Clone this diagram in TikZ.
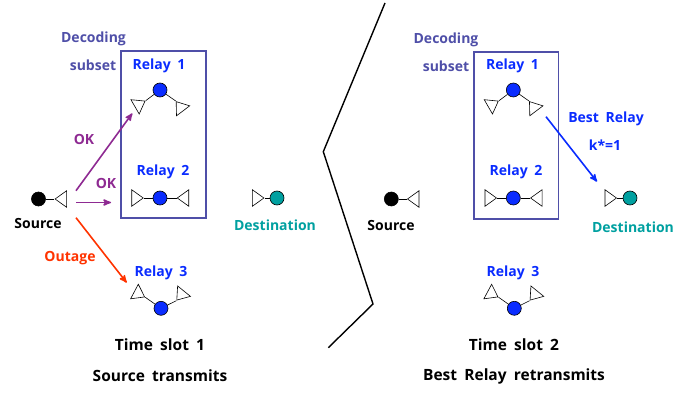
\documentclass[tikz,border=0pt]{standalone}
\usepackage{fontspec}
\setmainfont{Open Sans}[WordSpace=1.8]
\usetikzlibrary{positioning}
\usetikzlibrary{arrows}
\usetikzlibrary{shapes.geometric}

\definecolor{relayblue}{HTML}{0A2CFF}
\definecolor{boxblue}{HTML}{4F4FA8}
\definecolor{destteal}{HTML}{00A0A0}
\definecolor{okpurple}{HTML}{8E2A92}
\definecolor{outred}{HTML}{FF3300}

\tikzset{
    relay/.style={circle,draw,line width=0.6pt,fill=relayblue,minimum size=14pt,inner sep=0pt},
    ant/.style={isosceles triangle,isosceles triangle stretches,draw,line width=0.6pt,fill=white,
        minimum height=11.5pt,minimum width=16.5pt,inner sep=0pt,anchor=apex,rotate=#1},
    wire/.style={line width=0.6pt},
    txt/.style={font=\bfseries\fontsize{14}{16}\selectfont,inner sep=0pt,yshift=-1.5pt},
    captxt/.style={font=\bfseries\fontsize{15.5}{18}\selectfont,inner sep=0pt,yshift=-1pt},
    subsetbox/.style={draw=boxblue,line width=1.7pt},
    link/.style={line width=1.6pt,->}
}

\begin{document}
\begin{tikzpicture}[>=stealth',x=1pt,y=-1pt]
    \useasboundingbox (0,0) rectangle (696,393);

    % slot 1
    \node (boxA) [subsetbox,minimum width=84.4pt,minimum height=166.7pt,inner sep=0pt] at (163.5,134.3) {};
    \node (decA) [txt,text=boxblue] at (93.5,37) {Decoding};
    \node (subA) [txt,text=boxblue] at (93,64) {subset};

    \node (srcA) [relay,fill=black] at (38.5,199) {};
    \node (srcAant) [ant=180] at (54.3,199) {};
    \node (srcAtxt) [txt] at (38,222) {Source};

    \node (rAa) [relay] at (160,90) {};
    \node (rAal) [ant=30] at (145.7,100.7) {};
    \node (rAar) [ant=127] at (175.7,101) {};
    \node (rAatxt) [txt,text=relayblue] at (159,64) {Relay 1};

    \node (rAb) [relay] at (160,198) {};
    \node (rAbl) [ant=0] at (144,198) {};
    \node (rAbr) [ant=180] at (176.5,198) {};
    \node (rAbtxt) [txt,text=relayblue] at (163,170) {Relay 2};

    \node (rAc) [relay] at (161,308.3) {};
    \node (rAcl) [ant=-28] at (145.3,297.3) {};
    \node (rAcr) [ant=231] at (176.3,300.7) {};
    \node (rActxt) [txt,text=relayblue] at (161,271) {Relay 3};

    \node (dstA) [relay,fill=destteal] at (277,198) {};
    \node (dstAant) [ant=0] at (264.7,198) {};
    \node (dstAtxt) [txt,text=destteal] at (275,224) {Destination};

    \draw [wire] (srcA) -- (srcAant.apex);
    \draw [wire] (rAa) -- (rAal.apex);
    \draw [wire] (rAa) -- (rAar.apex);
    \draw [wire] (rAb) -- (rAbl.apex);
    \draw [wire] (rAb) -- (rAbr.apex);
    \draw [wire] (rAc) -- (rAcl.apex);
    \draw [wire] (rAc) -- (rAcr.apex);
    \draw [wire] (dstA) -- (dstAant.apex);

    \coordinate (okAs) at (76,190.7);
    \coordinate (okAe) at (132.3,113.3);
    \coordinate (okBs) at (76,202.5);
    \coordinate (okBe) at (111,202.5);
    \coordinate (outs) at (76,217.7);
    \coordinate (oute) at (126.7,282.7);
    \draw [link,okpurple] (okAs) -- (okAe);
    \draw [link,okpurple] (okBs) -- (okBe);
    \draw [link,outred] (outs) -- (oute);
    \node (okAtxt) [txt,text=okpurple] at (84,138) {OK};
    \node (okBtxt) [txt,text=okpurple] at (106,182) {OK};
    \node (outtxt) [txt,text=outred] at (70,257) {Outage};

    \node (slotA) [captxt] at (160,344) {Time slot 1};
    \node (capA) [captxt] at (160,375) {Source transmits};

    % separator
    \coordinate (sepa) at (385,3);
    \coordinate (sepb) at (323.3,151.7);
    \coordinate (sepc) at (373,304);
    \coordinate (sepd) at (328.3,347.7);
    \draw [line width=1.4pt] (sepa) -- (sepb) -- (sepc) -- (sepd);

    % slot 2
    \node (boxB) [subsetbox,minimum width=84.6pt,minimum height=167.3pt,inner sep=0pt] at (516.3,135.6) {};
    \node (decB) [txt,text=boxblue] at (446,38) {Decoding};
    \node (subB) [txt,text=boxblue] at (446,65) {subset};

    \node (srcB) [relay,fill=black] at (391.3,199) {};
    \node (srcBant) [ant=180] at (406.7,199) {};
    \node (srcBtxt) [txt] at (391,224) {Source};

    \node (rBa) [relay] at (513.3,90) {};
    \node (rBal) [ant=30] at (499,100.7) {};
    \node (rBar) [ant=127] at (529,101) {};
    \node (rBatxt) [txt,text=relayblue] at (512.5,64) {Relay 1};

    \node (rBb) [relay] at (513.3,198) {};
    \node (rBbl) [ant=0] at (497.3,198) {};
    \node (rBbr) [ant=180] at (529.8,198) {};
    \node (rBbtxt) [txt,text=relayblue] at (516,170) {Relay 2};

    \node (rBc) [relay] at (514.3,308.3) {};
    \node (rBcl) [ant=-28] at (498.6,297.3) {};
    \node (rBcr) [ant=231] at (529.6,300.7) {};
    \node (rBctxt) [txt,text=relayblue] at (513,271) {Relay 3};

    \node (dstB) [relay,fill=destteal] at (630,198) {};
    \node (dstBant) [ant=0] at (617.3,198) {};
    \node (dstBtxt) [txt,text=destteal] at (633,226) {Destination};

    \draw [wire] (srcB) -- (srcBant.apex);
    \draw [wire] (rBa) -- (rBal.apex);
    \draw [wire] (rBa) -- (rBar.apex);
    \draw [wire] (rBb) -- (rBbl.apex);
    \draw [wire] (rBb) -- (rBbr.apex);
    \draw [wire] (rBc) -- (rBcl.apex);
    \draw [wire] (rBc) -- (rBcr.apex);
    \draw [wire] (dstB) -- (dstBant.apex);

    \coordinate (bests) at (546,116.7);
    \coordinate (beste) at (597,181.7);
    \draw [link,relayblue] (bests) -- (beste);
    \node (besttxt) [txt,text=relayblue] at (606,117) {Best Relay};
    \node (ktxt) [txt,text=relayblue] at (605,144) {k*=1};

    \node (slotB) [captxt] at (514,344) {Time slot 2};
    \node (capB) [captxt] at (514,375) {Best Relay retransmits};
\end{tikzpicture}
\end{document}
